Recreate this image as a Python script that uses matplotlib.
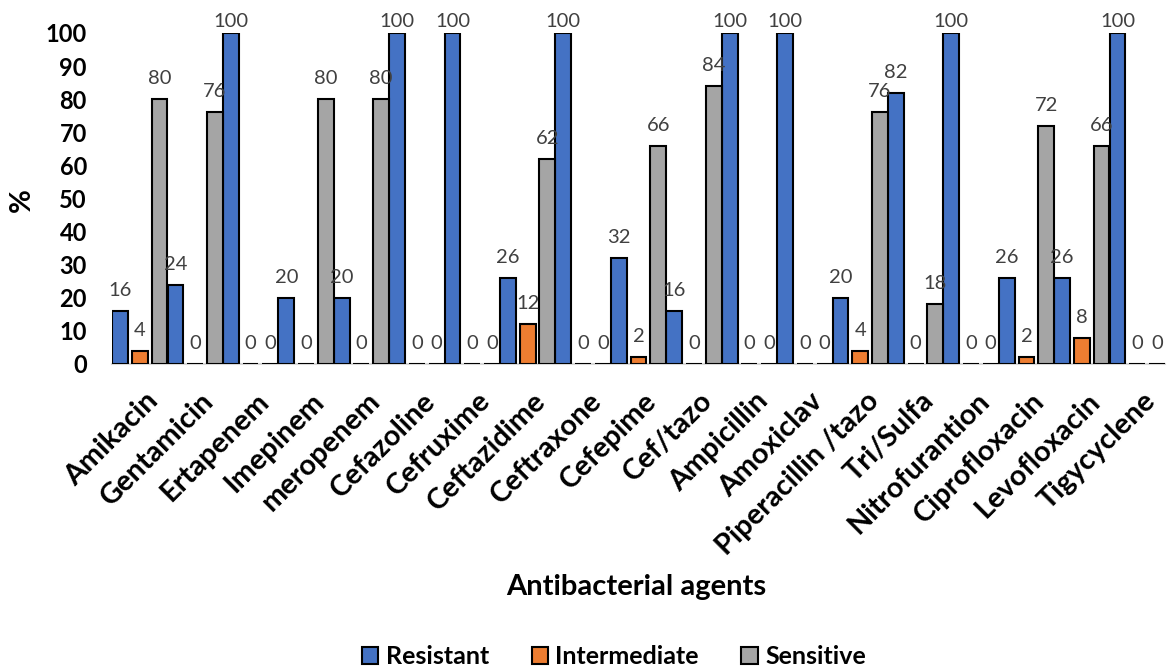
import matplotlib
matplotlib.use("Agg")
import matplotlib.pyplot as plt
import matplotlib.transforms as mtransforms
from matplotlib.patches import Patch
import numpy as np

plt.rcParams['font.family'] = ['Lato', 'DejaVu Sans']

categories = ["Amikacin", "Gentamicin", "Ertapenem", "Imepinem", "meropenem",
              "Cefazoline", "Cefruxime", "Ceftazidime", "Ceftraxone", "Cefepime",
              "Cef/tazo", "Ampicillin", "Amoxiclav", "Piperacillin /tazo",
              "Tri/Sulfa", "Nitrofurantion", "Ciprofloxacin", "Levofloxacin",
              "Tigycyclene"]
resistant = [16, 24, 100, 20, 20, 100, 100, 26, 100, 32, 16, 100, 100, 20, 82, 100, 26, 26, 100]
intermediate = [4, 0, 0, 0, 0, 0, 0, 12, 0, 2, 0, 0, 0, 4, 0, 0, 2, 8, 0]
sensitive = [80, 76, 0, 80, 80, 0, 0, 62, 0, 66, 84, 0, 0, 76, 18, 0, 72, 66, 0]
series_names = ["Resistant", "Intermediate", "Sensitive"]
colors = ["#4472C4", "#ED7D31", "#A5A5A5"]
yticks = list(range(0, 101, 10))

W, H = 1168, 667
fig = plt.figure(figsize=(W / 100, H / 100), dpi=100)
ax = fig.add_axes([112 / W, 1 - 364 / H, 1053 / W, (364 - 33) / H])

x = np.arange(len(categories))
offset = 0.3555
width = 0.285
for k, (vals, col) in enumerate(zip([resistant, intermediate, sensitive], colors)):
    xs = x + (k - 1) * offset
    ax.bar(xs, vals, width=width, color=col, edgecolor="black",
           linewidth=1.5, zorder=2)
    for xi, v in zip(xs, vals):
        # labels near the top are kept inside the chart area (as in Excel)
        off_px = 12 if v < 96 else 2.5
        ax.annotate(f"{v}", (xi, v), xytext=(0, off_px * 0.72), textcoords="offset points",
                    ha="center", va="bottom", fontsize=14.5, color="#404040",
                    zorder=5, annotation_clip=False)

ax.set_xlim(-0.5, len(categories) - 0.5)
ax.set_ylim(0, 100)
ax.set_yticks(yticks)
ax.set_yticklabels([str(t) for t in yticks], fontsize=17, fontweight="bold")
ax.tick_params(axis="y", length=0, pad=18)
ax.set_xticks(x)
ax.set_xticklabels(categories, rotation=45, ha="right", va="top",
                   rotation_mode="anchor", fontsize=20.8, fontweight="bold")
ax.tick_params(axis="x", length=0, pad=17)
shift = mtransforms.ScaledTranslation(5 / 100, 0, fig.dpi_scale_trans)
for lab in ax.get_xticklabels():
    lab.set_transform(lab.get_transform() + shift)

for s in ["top", "right", "left"]:
    ax.spines[s].set_visible(False)
ax.spines["bottom"].set_color("#D9D9D9")
ax.spines["bottom"].set_linewidth(1.5)
ax.spines["bottom"].set_zorder(1)

fig.text(22 / W, 1 - 200 / H, "%", rotation=90, ha="center", va="center",
         fontsize=21, fontweight="bold")
fig.text(636 / W, 1 - 587 / H, "Antibacterial agents", ha="center", va="center",
         fontsize=21, fontweight="bold")

handles = [Patch(facecolor=c, edgecolor="black", linewidth=1.5) for c in colors]
fig.legend(handles, series_names, loc="center", bbox_to_anchor=(614 / W, 1 - 657 / H),
           ncol=3, frameon=False, handlelength=0.65, handleheight=0.65,
           handletextpad=0.3, columnspacing=1.7,
           prop={"size": 18, "weight": "bold"})

fig.savefig("out.png", dpi=100)
